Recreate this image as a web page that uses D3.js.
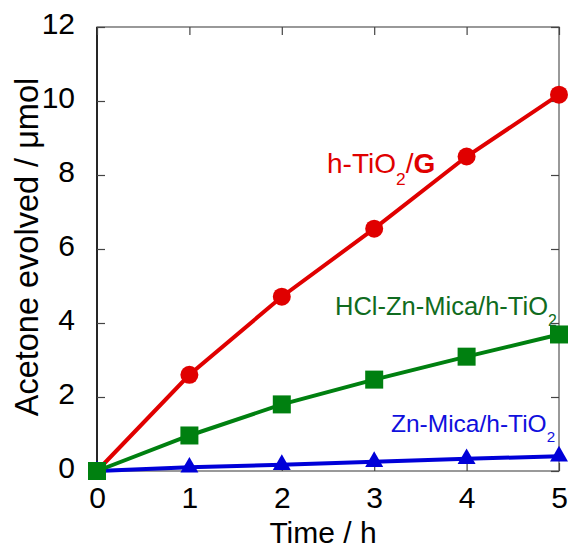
<!DOCTYPE html>
<html>
<head>
<meta charset="utf-8">
<script src="https://cdn.jsdelivr.net/npm/d3@7"></script>
<style>
  body { margin: 0; background: #fff; }
  text { font-family: "Liberation Sans", Arial, sans-serif; }
</style>
</head>
<body>
<div id="chart"></div>
<script>
// data
const times = [0, 1, 2, 3, 4, 5];
const tioG = [0, 2.6, 4.71, 6.55, 8.5, 10.17];
const hclZnMica = [0, 0.96, 1.8, 2.47, 3.09, 3.69];
const znMica = [0, 0.1, 0.17, 0.25, 0.33, 0.4];
const xTicks = [0, 1, 2, 3, 4, 5];
const yTicks = [0, 2, 4, 6, 8, 10, 12];

// dimensions
const margin = { top: 27, right: 13, bottom: 77, left: 97 },
    width = 572 - margin.left - margin.right,
    height = 548 - margin.top - margin.bottom;

const svg = d3.select("#chart")
    .append("svg")
    .attr("width", 572)
    .attr("height", 548)
    .append("g")
    .attr("transform", `translate(${margin.left},${margin.top})`);

const x = d3.scaleLinear().domain([0, 5]).range([0, width]);
const y = d3.scaleLinear().domain([0, 12]).range([height, 0]);

// frame
svg.append("rect")
    .attr("width", width).attr("height", height)
    .attr("fill", "none").attr("stroke", "#555").attr("stroke-width", 1.2);
svg.append("line").attr("x1", 0).attr("x2", 0).attr("y1", 0).attr("y2", height)
    .attr("stroke", "#000").attr("stroke-width", 1.5);

// axes, ticks inside
const tickLen = 8;
const xb = svg.append("g").attr("transform", `translate(0,${height})`)
    .call(d3.axisBottom(x).tickValues(xTicks).tickSize(-tickLen).tickPadding(tickLen + 8).tickFormat(d3.format("d")));
const yl = svg.append("g")
    .call(d3.axisLeft(y).tickValues(yTicks).tickSize(-tickLen).tickPadding(tickLen + 14).tickFormat(d3.format("d")));
svg.append("g").call(d3.axisTop(x).tickValues(xTicks).tickSize(-tickLen).tickFormat(""));
svg.append("g").attr("transform", `translate(${width},0)`)
    .call(d3.axisRight(y).tickValues(yTicks).tickSize(-tickLen).tickFormat(""));
svg.selectAll(".domain").remove();
svg.selectAll(".tick line").attr("stroke", "#444").attr("stroke-width", 1.2);
xb.selectAll("text").attr("font-size", 30).attr("fill", "#000")
    .attr("font-family", "Liberation Sans, Arial, sans-serif");
yl.selectAll("text").attr("font-size", 30).attr("fill", "#000").attr("dy", "0.2em")
    .attr("font-family", "Liberation Sans, Arial, sans-serif");

// axis titles
svg.append("text")
    .attr("x", width / 2 - 5).attr("y", height + 72)
    .attr("text-anchor", "middle").attr("font-size", 30)
    .text("Time / h");
svg.append("text")
    .attr("transform", `translate(${38 - margin.left},${247 - margin.top}) rotate(-90)`)
    .attr("text-anchor", "middle").attr("font-size", 32.5)
    .text("Acetone evolved / μmol");

const line = d3.line()
    .x(function (d, i) { return x(times[i]); })
    .y(function (d) { return y(d); });

// red series
svg.append("path").datum(tioG)
    .attr("fill", "none").attr("stroke", "#e00000").attr("stroke-width", 4)
    .attr("d", line);
svg.selectAll(".c").data(tioG).enter().append("circle")
    .attr("cx", function (d, i) { return x(times[i]); })
    .attr("cy", function (d) { return y(d); })
    .attr("r", 9).attr("fill", "#e00000");

// blue series
svg.append("path").datum(znMica)
    .attr("fill", "none").attr("stroke", "#0000d8").attr("stroke-width", 4)
    .attr("d", line);
svg.selectAll(".t").data(znMica).enter().append("path")
    .attr("transform", function (d, i) { return `translate(${x(times[i])},${y(d)})`; })
    .attr("d", d3.symbol().type(d3.symbolTriangle).size(140))
    .attr("fill", "#0000d8");

// green series
svg.append("path").datum(hclZnMica)
    .attr("fill", "none").attr("stroke", "#008010").attr("stroke-width", 4)
    .attr("d", line);
svg.selectAll(".s").data(hclZnMica).enter().append("rect")
    .attr("x", function (d, i) { return x(times[i]) - 9; })
    .attr("y", function (d) { return y(d) - 9; })
    .attr("width", 18).attr("height", 18)
    .attr("fill", "#008010");

// series labels
function label(txt, sub, tail, px, py, size, color, tailBold) {
    const t = svg.append("text")
        .attr("x", px - margin.left).attr("y", py - margin.top)
        .attr("font-size", size).attr("fill", color);
    t.append("tspan").text(txt);
    t.append("tspan").attr("font-size", size * 0.62).attr("dy", size * 0.42).text(sub);
    if (tail) {
        t.append("tspan").attr("dy", -size * 0.42).text("/");
        t.append("tspan").attr("font-weight", tailBold ? "bold" : "normal").text(tail);
    }
}
label("h-TiO", "2", "G", 327, 173, 28, "#e00000", true);
label("HCl-Zn-Mica/h-TiO", "2", null, 335, 315, 25.5, "#106b20", false);
label("Zn-Mica/h-TiO", "2", null, 391, 432, 24.5, "#1010dd", false);
</script>
</body>
</html>
